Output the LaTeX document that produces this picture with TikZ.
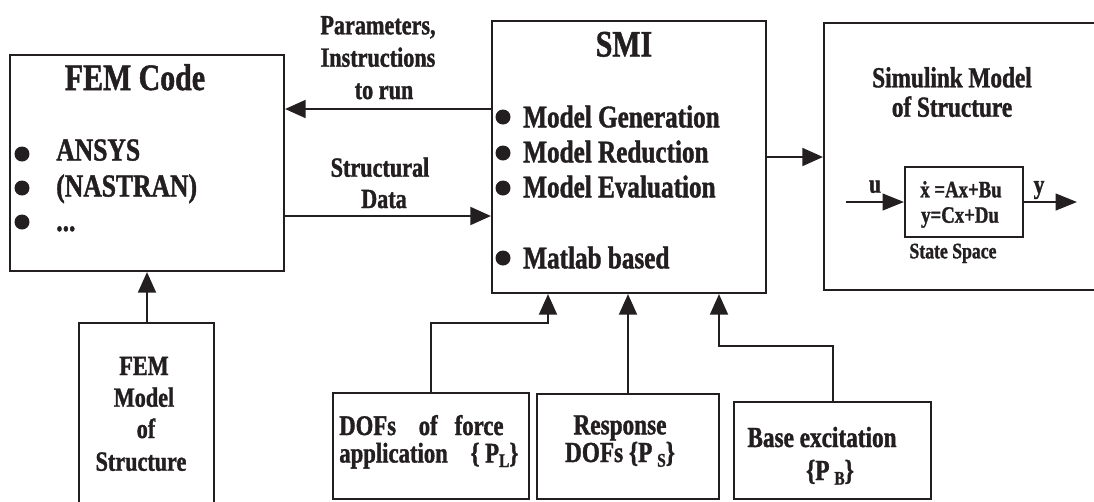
\documentclass[tikz,border=0pt]{standalone}
\usepackage{fontspec}
\setmainfont{Liberation Serif}[FakeStretch=0.8, BoldFeatures={FakeBold=1.3}]
\usetikzlibrary{arrows.meta,fit}
\definecolor{ink}{HTML}{231F20}
\newcommand\fs[1]{\fontsize{#1}{#1}\selectfont}
\newcommand\sbs[1]{\raisebox{-0.35ex}{\fontsize{14.5}{14.5}\selectfont #1}}

\begin{document}
\begin{tikzpicture}[x=0.75pt,y=-0.75pt,
  line/.style={draw=ink, line width=1.6pt},
  frame/.style={line, inner sep=0pt},
  flow/.style={line, -{Triangle[length=15.5pt,width=13.5pt]}},
  small flow/.style={line, -{Triangle[length=16pt,width=12.5pt]}},
  lbl/.style={text=ink, font=\bfseries, inner sep=0pt},
  dot/.style={fill=ink}]

\useasboundingbox (0,0) rectangle (1094,501);
\clip (0,0) rectangle (1094,501);

% ---------- boxes ----------
\node[frame, fit={(10,55) (284,271)}]   (fem) {};
\node[frame, fit={(492,21) (766,293)}]  (smi) {};
\node[frame, fit={(824,23) (1104,290)}] (sim) {};
\node[frame, fit={(905,167) (1023,237)}] (ss) {};
\node[frame, fit={(79,323) (214,512)}]  (femmodel) {};
\node[frame, fit={(333,393) (529,499)}] (dofs) {};
\node[frame, fit={(537,394) (719,499)}] (resp) {};
\node[frame, fit={(734,402) (931,499)}] (base) {};

% ---------- FEM code ----------
\node[lbl, font=\bfseries\fs{28}, anchor=base] (femtitle) at (135,90) {FEM Code};
\foreach \yy in {154,188,222} \fill[dot] (22,\yy) circle[radius=7.5];
\node[lbl, font=\bfseries\fs{24}, anchor=base west] (ansys) at (56,160.5) {ANSYS};
\node[lbl, font=\bfseries\fs{24}, anchor=base west] (nastran) at (56,196.5) {(NASTRAN)};
\node[lbl, font=\bfseries\fs{24}, anchor=base west] (etc) at (56,231) {...};

% ---------- SMI ----------
\node[lbl, font=\bfseries\fs{28}, anchor=base] (smititle) at (624,56.5) {SMI};
\foreach \yy in {117,153,188,258} \fill[dot] (503,\yy) circle[radius=7.5];
\node[lbl, font=\bfseries\fs{23.6}, anchor=base west] (gen) at (523,127.3) {Model Generation};
\node[lbl, font=\bfseries\fs{23.6}, anchor=base west] (red) at (523,162.3) {Model Reduction};
\node[lbl, font=\bfseries\fs{23.6}, anchor=base west] (eva) at (523,197.3) {Model Evaluation};
\node[lbl, font=\bfseries\fs{23.6}, anchor=base west] (mat) at (523,268.3) {Matlab based};

% ---------- Simulink model ----------
\node[lbl, font=\bfseries\fs{21.8}, anchor=base] (simt1) at (952,87.3) {Simulink Model};
\node[lbl, font=\bfseries\fs{21.8}, anchor=base] (simt2) at (952,116.7) {of Structure};
\node[lbl, font=\bfseries\fs{17.6}, anchor=base] (eq1) at (961,197.3) {\.{x} =Ax+Bu};
\node[lbl, font=\bfseries\fs{17.6}, anchor=base] (eq2) at (960,222.7) {y=Cx+Du};
\node[lbl, font=\bfseries\fs{16.6}, anchor=base] (sslbl) at (953,258.3) {State Space};
\coordinate (uin) at (846,202);
\coordinate (yout) at (1077,202);
\node[lbl, font=\bfseries\fs{20}, anchor=base] (ulbl) at (875,192.7) {u};
\node[lbl, font=\bfseries\fs{20}, anchor=base] (ylbl) at (1039,193.3) {y};
\draw[small flow] (uin) -- (uin -| ss.west);
\draw[small flow] (yout -| ss.east) -- (yout);

% ---------- FEM model of structure ----------
\node[lbl, font=\bfseries\fs{20.8}, anchor=base] (fm1) at (144,375) {FEM};
\node[lbl, font=\bfseries\fs{20.8}, anchor=base] (fm2) at (144,406.7) {Model};
\node[lbl, font=\bfseries\fs{20.8}, anchor=base] (fm3) at (146,438) {of};
\node[lbl, font=\bfseries\fs{20.8}, anchor=base] (fm4) at (141,470.7) {Structure};

% ---------- bottom input boxes ----------
\node[lbl, font=\bfseries\fs{21.3}, anchor=base west] (d1) at (339,435) {DOFs~~~ of~~ force};
\node[lbl, font=\bfseries\fs{21.3}, anchor=base west] (d2) at (339,462.5) {application~~~ \{ P\sbs{L}\}};
\node[lbl, font=\bfseries\fontsize{21.8}{19}\selectfont, align=center, anchor=base] (rtxt)
  at (620,462) {Response\\DOFs \{P\,\sbs{S}\}};
\node[lbl, font=\bfseries\fs{21.8}, anchor=base] (b1) at (822,447) {Base excitation};
\node[lbl, font=\bfseries\fs{21.8}, anchor=base] (b2) at (830,480) {\{P\,\sbs{B}\}};

% ---------- connectors ----------
\draw[flow] (smi.west |- 0,109) -- (fem.east |- 0,109);
\draw[flow] (fem.east |- 0,216) -- (smi.west |- 0,216);
\node[lbl, font=\bfseries\fs{20.8}, anchor=base] (pa1) at (378,34.3) {Parameters,};
\node[lbl, font=\bfseries\fs{20.8}, anchor=base] (pa2) at (378,66.7) {Instructions};
\node[lbl, font=\bfseries\fs{20.8}, anchor=base] (pa3) at (384,99) {to run};
\node[lbl, font=\bfseries\fs{20.8}, anchor=base] (sd1) at (380,176.7) {Structural};
\node[lbl, font=\bfseries\fs{20.8}, anchor=base] (sd2) at (384,208) {Data};

\draw[flow] (smi.east |- 0,157) -- (sim.west |- 0,157);
\draw[flow] (femmodel.north -| 147,0) -- (fem.south -| 147,0);

\draw[flow] (dofs.north -| 431,0) |- (548,323) -- (smi.south -| 548,0);
\draw[flow] (resp.north -| 628,0) -- (smi.south -| 628,0);
\draw[flow] (base.north -| 833,0) |- (719,346) -- (smi.south -| 719,0);
\end{tikzpicture}
\end{document}
